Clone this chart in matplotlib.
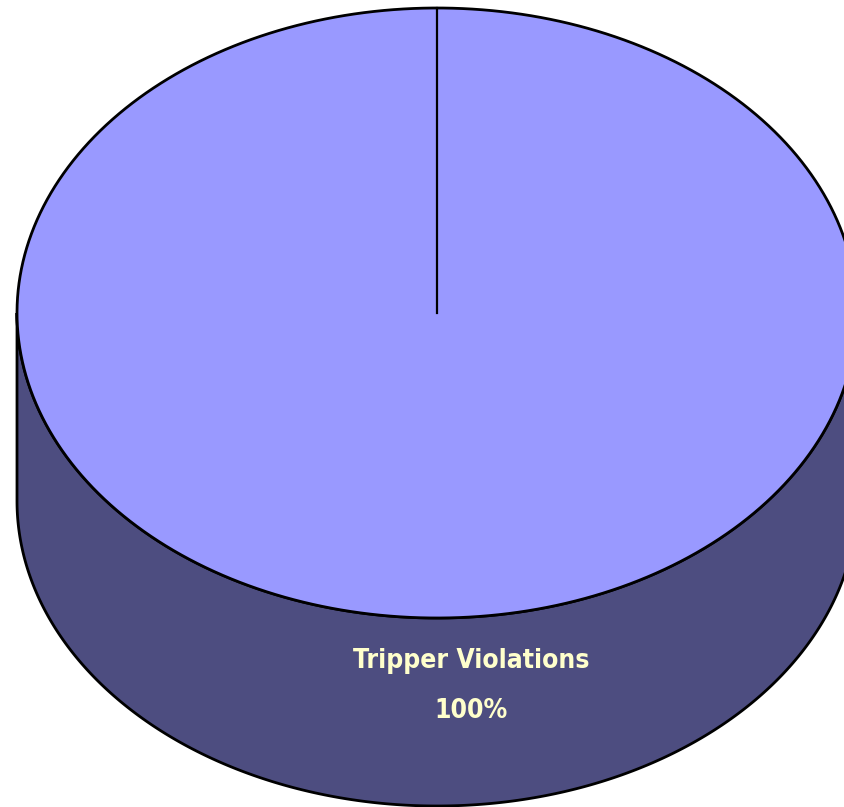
import numpy as np
import matplotlib.pyplot as plt
from matplotlib.patches import Polygon

# Data
labels = ['Tripper Violations']
values = [100]

# Geometry of the 3D pie (pixels)
cx, cy = 437, 313
rx, ry = 420, 305
depth = 188

top_color = '#9999FF'
side_color = '#4D4D80'
text_color = '#FFFFCC'

fig = plt.figure(figsize=(8.44, 8.07), dpi=100)
ax = fig.add_axes([0, 0, 1, 1])
ax.set_xlim(0, 844)
ax.set_ylim(807, 0)
ax.axis('off')

def ell(t, dy=0):
    return cx + rx * np.cos(t), cy - ry * np.sin(t) + dy

# Side wall (front half)
t = np.linspace(np.pi, 2 * np.pi, 400)
x1, y1 = ell(t)
x2, y2 = ell(t[::-1], depth)
side = Polygon(np.column_stack([np.r_[x1, x2], np.r_[y1, y2]]),
               closed=True, facecolor=side_color, edgecolor='black', lw=2, zorder=1)
ax.add_patch(side)

# Top face, slices from values
total = sum(values)
start = np.pi / 2
for v in values:
    sweep = 2 * np.pi * v / total
    tt = np.linspace(start, start - sweep, 600)
    xs, ys = ell(tt)
    top = Polygon(np.column_stack([np.r_[cx, xs], np.r_[cy, ys]]),
                  closed=True, facecolor=top_color, edgecolor='none', zorder=2)
    ax.add_patch(top)
    bx, by = ell(np.array([start]))
    ax.plot([cx, bx[0]], [cy, by[0]], color='black', lw=1.6, zorder=3)
    start -= sweep

tt = np.linspace(0, 2 * np.pi, 800)
xs, ys = ell(tt)
ax.plot(xs, ys, color='black', lw=2, zorder=3)

# Label
ax.text(471, 661, labels[0], ha='center', va='center',
        color=text_color, fontsize=19, fontweight='bold', fontstretch='condensed',
        family='DejaVu Sans', zorder=4)
ax.text(471, 711, f'{values[0]}%', ha='center', va='center',
        color=text_color, fontsize=19, fontweight='bold', fontstretch='condensed',
        family='DejaVu Sans', zorder=4)

fig.savefig('out.png', dpi=100)
